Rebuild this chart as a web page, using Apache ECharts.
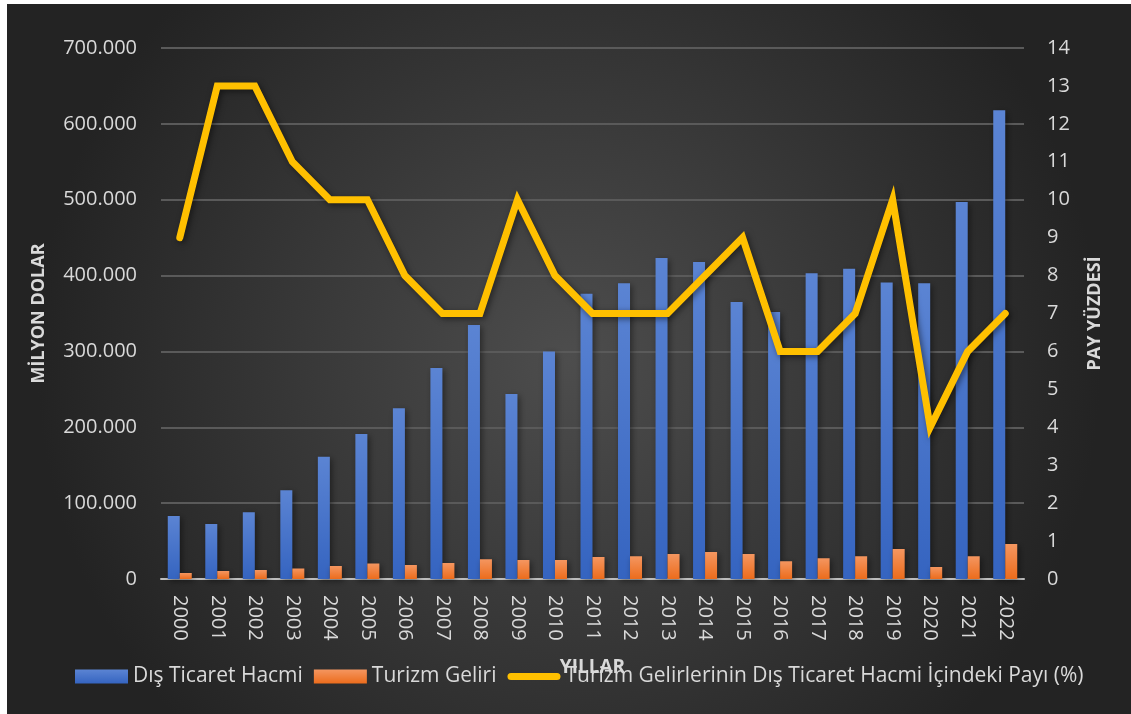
<!DOCTYPE html>
<html>
<head>
<meta charset="utf-8">
<script src="https://cdn.jsdelivr.net/npm/echarts@6/dist/echarts.min.js"></script>
<style>
	html, body { margin: 0; padding: 0; background: #ffffff; }
	#tradeChart { position: absolute; left: 7px; top: 4px; width: 1124px; height: 710px; }
</style>
</head>
<body>
<div id="tradeChart"></div>
<script>
/*** Dış ticaret / turizm grafiği ***/
var years = ['2000', '2001', '2002', '2003', '2004', '2005', '2006', '2007', '2008', '2009', '2010', '2011',
	'2012', '2013', '2014', '2015', '2016', '2017', '2018', '2019', '2020', '2021', '2022'];
// milyon dolar
var tradeVolume = [83000, 72500, 88000, 117000, 161000, 191000, 225000, 278000, 335000, 244000, 300000, 376000,
	390000, 423000, 418000, 365000, 352000, 403000, 409000, 391000, 390000, 497000, 618000];
var tourismIncome = [7900, 10500, 11900, 14000, 17000, 20500, 18500, 21000, 26000, 25000, 25000, 29000,
	30000, 33000, 35500, 33000, 23500, 27500, 30000, 39500, 15800, 30000, 46000];
// yüzde
var tourismShare = [9, 13, 13, 11, 10, 10, 8, 7, 7, 10, 8, 7, 7, 7, 8, 9, 6, 6, 7, 10, 4, 6, 7];
var seriesNames = ['Dış Ticaret Hacmi', 'Turizm Geliri', 'Turizm Gelirlerinin Dış Ticaret Hacmi İçindeki Payı (%)'];

var FONT = '"Open Sans", "Noto Sans", sans-serif';
var LABEL_COLOR = '#d9d9d9';

var tradeReport = {
	init: function() {
		this.chart();
	},
	//binlik ayırıcı nokta
	formatThousands: function(value) {
		return String(value).replace(/\B(?=(\d{3})+(?!\d))/g, '.');
	},
	gradient: function(top, bottom) {
		return new echarts.graphic.LinearGradient(0, 0, 0, 1, [
			{ offset: 0, color: top },
			{ offset: 1, color: bottom }
		]);
	},
	chart: function() {
		var self = this;
		var tradeChart = echarts.init(document.getElementById('tradeChart'));
		var option = {
			backgroundColor: new echarts.graphic.RadialGradient(0.5, 0.5, 0.75, [
				{ offset: 0, color: '#4d4d4d' },
				{ offset: 1, color: '#232323' }
			]),
			textStyle: { fontFamily: FONT },
			grid: {
				left: 154,
				top: 44,
				right: 107,
				bottom: 135
			},
			legend: {
				left: 68,
				top: 662,
				padding: 0,
				itemWidth: 53,
				itemHeight: 14,
				itemGap: 11,
				textStyle: { color: LABEL_COLOR, fontSize: 21, fontFamily: FONT },
				data: [
					{ name: seriesNames[0], icon: 'rect' },
					{ name: seriesNames[1], icon: 'rect' },
					//kalın yuvarlak çizgi
					{ name: seriesNames[2], icon: 'path://M3.5,0 L49.5,0 A3.5,3.5 0 0 1 49.5,7 L3.5,7 A3.5,3.5 0 0 1 3.5,0 Z' }
				]
			},
			xAxis: {
				type: 'category',
				data: years,
				name: 'YILLAR',
				nameLocation: 'middle',
				nameGap: 79,
				nameTextStyle: { color: LABEL_COLOR, fontSize: 19, fontWeight: 'bold', fontFamily: FONT },
				axisLine: { lineStyle: { color: '#bfbfbf', width: 2 } },
				axisTick: { show: false },
				axisLabel: {
					rotate: -90,
					margin: 16,
					color: LABEL_COLOR,
					fontSize: 20
				}
			},
			yAxis: [{
				type: 'value',
				min: 0,
				max: 700000,
				interval: 100000,
				name: 'MİLYON DOLAR',
				nameLocation: 'middle',
				nameGap: 113,
				nameTextStyle: { color: LABEL_COLOR, fontSize: 18, fontWeight: 'bold', fontFamily: FONT },
				axisLine: { show: false },
				axisTick: { show: false },
				axisLabel: {
					margin: 24,
					color: LABEL_COLOR,
					fontSize: 20,
					formatter: function(v) {
						return self.formatThousands(v);
					}
				},
				splitLine: { lineStyle: { color: '#5a5a5a', width: 2 } }
			}, {
				type: 'value',
				min: 0,
				max: 14,
				interval: 1,
				name: 'PAY YÜZDESİ',
				nameLocation: 'middle',
				nameGap: 62,
				nameRotate: 90,
				nameTextStyle: { color: LABEL_COLOR, fontSize: 18, fontWeight: 'bold', fontFamily: FONT },
				axisLine: { show: false },
				axisTick: { show: false },
				axisLabel: { margin: 23, color: LABEL_COLOR, fontSize: 20 },
				splitLine: { show: false }
			}],
			series: [{
				name: seriesNames[0],
				type: 'bar',
				data: tradeVolume,
				barWidth: 12,
				barGap: '0%',
				itemStyle: {
					color: self.gradient('#5b84d3', '#3564c0'),
					shadowColor: 'rgba(0,0,0,0.45)',
					shadowBlur: 6,
					shadowOffsetX: 2,
					shadowOffsetY: 2
				}
			}, {
				name: seriesNames[1],
				type: 'bar',
				data: tourismIncome,
				barWidth: 12,
				itemStyle: {
					color: self.gradient('#f49660', '#ec6c1c'),
					shadowColor: 'rgba(0,0,0,0.45)',
					shadowBlur: 6,
					shadowOffsetX: 2,
					shadowOffsetY: 2
				}
			}, {
				name: seriesNames[2],
				type: 'line',
				yAxisIndex: 1,
				data: tourismShare,
				symbol: 'none',
				z: 5,
				itemStyle: { color: '#ffc000' },
				lineStyle: {
					color: '#ffc000',
					width: 7,
					cap: 'round',
					join: 'miter',
					shadowColor: 'rgba(0,0,0,0.5)',
					shadowBlur: 6,
					shadowOffsetX: 2,
					shadowOffsetY: 2
				}
			}]
		};
		tradeChart.setOption(option, true);
	}
};

tradeReport.init();
</script>
</body>
</html>
